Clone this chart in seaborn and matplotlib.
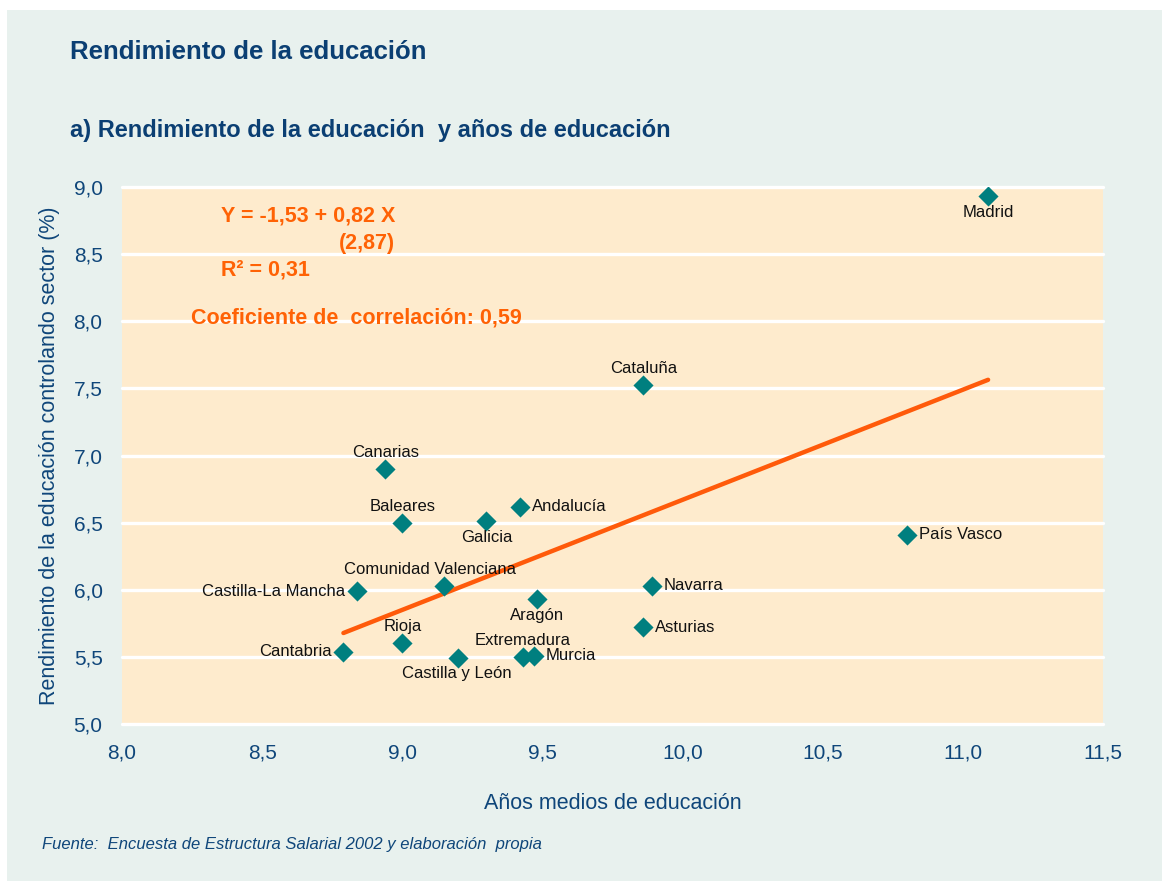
import matplotlib
matplotlib.use("Agg")
import matplotlib.pyplot as plt
import seaborn as sns
import pandas as pd
import numpy as np
from matplotlib.patches import Rectangle
from matplotlib.ticker import FuncFormatter

regions = ["Madrid", "Cataluña", "Canarias", "Baleares", "Galicia", "Andalucía",
           "País Vasco", "Navarra", "Comunidad Valenciana", "Castilla-La Mancha",
           "Aragón", "Asturias", "Rioja", "Cantabria", "Castilla y León",
           "Extremadura", "Murcia"]
years = [11.09, 9.86, 8.94, 9.00, 9.30, 9.42, 10.80, 9.89, 9.15, 8.84,
         9.48, 9.86, 9.00, 8.79, 9.20, 9.43, 9.47]
returns = [8.93, 7.525, 6.90, 6.50, 6.51, 6.62, 6.41, 6.03, 6.03, 5.99,
           5.93, 5.72, 5.60, 5.54, 5.49, 5.50, 5.51]
# label placement: (dx px, dy px, ha, va)
label_pos = {
    "Madrid": (0, -9, "center", "top"),
    "Cataluña": (0, 9, "center", "bottom"),
    "Canarias": (0, 9, "center", "bottom"),
    "Baleares": (0, 9, "center", "bottom"),
    "Galicia": (0, -9, "center", "top"),
    "Andalucía": (12, 0, "left", "center"),
    "País Vasco": (12, 0, "left", "center"),
    "Navarra": (12, 0, "left", "center"),
    "Comunidad Valenciana": (-14, 9, "center", "bottom"),
    "Castilla-La Mancha": (-12, 0, "right", "center"),
    "Aragón": (0, -9, "center", "top"),
    "Asturias": (12, 0, "left", "center"),
    "Rioja": (0, 9, "center", "bottom"),
    "Cantabria": (-12, 0, "right", "center"),
    "Castilla y León": (-2, -8, "center", "top"),
    "Extremadura": (0, 9, "center", "bottom"),
    "Murcia": (12, 0, "left", "center"),
}
intercept = -1.53
slope = 0.82
x_ticks = [8.0, 8.5, 9.0, 9.5, 10.0, 10.5, 11.0, 11.5]
y_ticks = [5.0, 5.5, 6.0, 6.5, 7.0, 7.5, 8.0, 8.5, 9.0]

df = pd.DataFrame({"region": regions, "years": years, "ret": returns})

sns.set_theme(style="white")
plt.rcParams["font.family"] = ["Liberation Sans", "DejaVu Sans"]

BG = "#E8F1EE"
PLOT_BG = "#FEEBCD"
BLUE = "#0F467A"
TITLE_BLUE = "#0B3F73"
TEAL = "#007F7F"
ORANGE = "#FF6205"

fig = plt.figure(figsize=(11.62, 8.81), dpi=100)
fig.patch.set_facecolor("white")
fig.add_artist(Rectangle((7 / 1162, 0), 1, 1 - 10 / 881, transform=fig.transFigure,
                         facecolor=BG, edgecolor="none", zorder=-10))

ax = fig.add_axes([122 / 1162, 1 - 724 / 881, (1103 - 122) / 1162, (724 - 187) / 881])
ax.set_facecolor(PLOT_BG)

for yv in y_ticks:
    ax.axhline(yv, color="white", lw=2.4, zorder=1, clip_on=False)

xs = np.array([min(years), max(years)])
sns.lineplot(x=xs, y=intercept + slope * xs, ax=ax, color="#FF5A0A", lw=3.2, zorder=2)

sns.scatterplot(data=df, x="years", y="ret", ax=ax, marker="D", s=105,
                color=TEAL, linewidth=0, zorder=3)

for r, xv, yv in zip(regions, years, returns):
    dx, dy, ha, va = label_pos[r]
    ax.annotate(r, (xv, yv), xytext=(dx, dy), textcoords="offset pixels",
                ha=ha, va=va, fontsize=12, color="#111111", zorder=4)

ax.set_xlim(8.0, 11.5)
ax.set_ylim(5.0, 9.0)
ax.set_xticks(x_ticks)
ax.set_yticks(y_ticks)
fmt = FuncFormatter(lambda v, p: f"{v:.1f}".replace(".", ","))
ax.xaxis.set_major_formatter(fmt)
ax.yaxis.set_major_formatter(fmt)
ax.tick_params(axis="both", length=0, labelsize=15, labelcolor=BLUE)
ax.tick_params(axis="x", pad=14)
ax.tick_params(axis="y", pad=14)
for s in ax.spines.values():
    s.set_visible(False)

ax.set_xlabel("Años medios de educación", fontsize=15.5, color=BLUE, labelpad=22)
ax.set_ylabel("Rendimiento de la educación controlando sector (%)", fontsize=15.5,
              color=BLUE, labelpad=10)

# regression annotation
fig.text(221 / 1162, 1 - 216 / 881, "Y = -1,53 + 0,82 X", fontsize=15.5, fontweight="bold",
         color=ORANGE, ha="left", va="center")
fig.text(395 / 1162, 1 - 243 / 881, "(2,87)", fontsize=15.5, fontweight="bold",
         color=ORANGE, ha="right", va="center")
fig.text(221 / 1162, 1 - 270 / 881, "R² = 0,31", fontsize=15.5, fontweight="bold",
         color=ORANGE, ha="left", va="center")
fig.text(191 / 1162, 1 - 318 / 881, "Coeficiente de  correlación: 0,59", fontsize=15.5,
         fontweight="bold", color=ORANGE, ha="left", va="center")

fig.text(70 / 1162, 1 - 52 / 881, "Rendimiento de la educación", fontsize=18.5,
         fontweight="bold", color=TITLE_BLUE, ha="left", va="center")
fig.text(70 / 1162, 1 - 131 / 881, "a) Rendimiento de la educación  y años de educación",
         fontsize=17, fontweight="bold", color=TITLE_BLUE, ha="left", va="center")
fig.text(42 / 1162, 1 - 845 / 881,
         "Fuente:  Encuesta de Estructura Salarial 2002 y elaboración  propia",
         fontsize=12, style="italic", color=BLUE, ha="left", va="center")

fig.savefig("out.png", dpi=100, facecolor=fig.get_facecolor())
